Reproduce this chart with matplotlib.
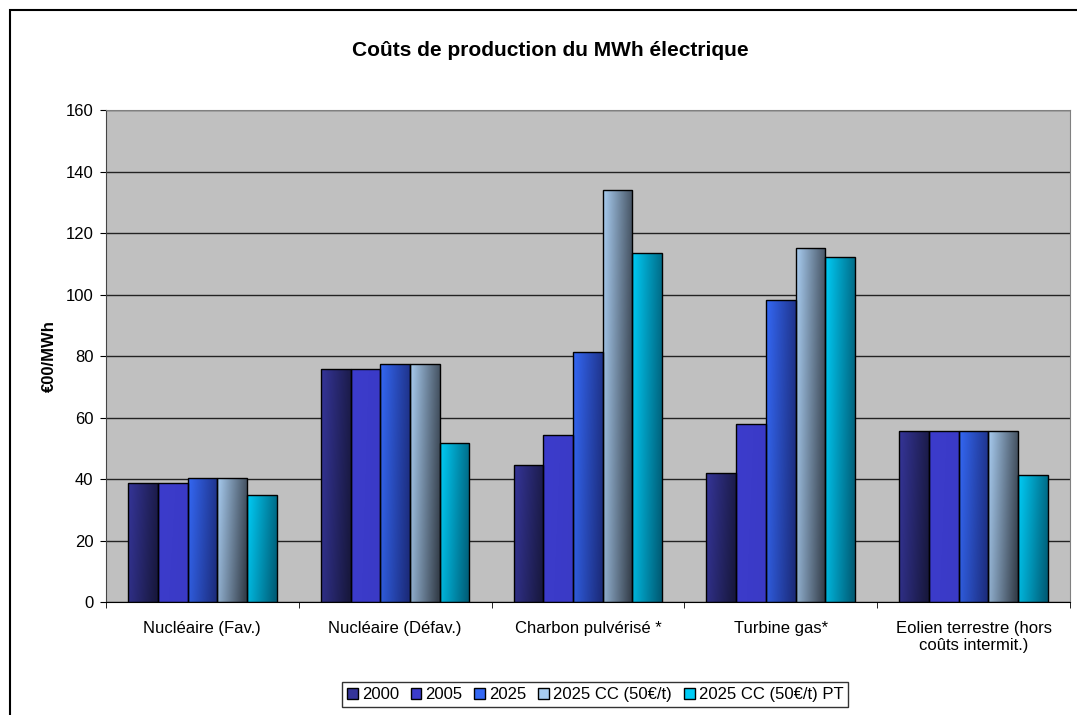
import numpy as np
import matplotlib
matplotlib.use('Agg')
import matplotlib.pyplot as plt
from matplotlib.patches import Patch, Rectangle
from matplotlib.colors import to_rgb

plt.rcParams['font.family'] = ['Liberation Sans', 'DejaVu Sans']

# données
categories = ['Nucléaire (Fav.)', 'Nucléaire (Défav.)', 'Charbon pulvérisé *',
              'Turbine gas*', 'Eolien terrestre (hors\ncoûts intermit.)']
series = ['2000', '2005', '2025', '2025 CC (50€/t)', '2025 CC (50€/t) PT']
v2000 = [38.6, 75.7, 44.6, 42.0, 55.7]
v2005 = [38.6, 75.7, 54.3, 57.8, 55.7]
v2025 = [40.4, 77.4, 81.2, 98.2, 55.7]
v2025cc = [40.4, 77.4, 133.9, 115.1, 55.7]
v2025pt = [34.8, 51.8, 113.5, 112.2, 41.2]
values = [v2000, v2005, v2025, v2025cc, v2025pt]

# couleurs (clair à gauche, foncé à droite)
light = ['#353599', '#3c3ccc', '#3468f4', '#a8ccf0', '#00ccf6']
dark = ['#18183e', '#3a3ac6', '#1c2c7c', '#36404c', '#005e78']

fig = plt.figure(figsize=(10.77, 7.15), dpi=100)
ax = fig.add_axes([0.0984, 0.158, 0.895, 0.688])
ax.set_facecolor('#c0c0c0')

x = np.arange(len(categories))
w = 0.154
n = len(series)

for i in range(n):
    pos = x + (i - (n - 1) / 2) * w
    bars = ax.bar(pos, values[i], w, color='none', edgecolor='black', linewidth=1.0, zorder=3)
    c1 = np.array(to_rgb(light[i]))
    c2 = np.array(to_rgb(dark[i]))
    tx = np.linspace(0, 1, 40)[None, :]
    ty = np.linspace(0, 1, 40)[:, None]  # 0 = haut
    wt = np.clip(0.85 * tx + 0.2 * ty, 0, 1)
    img = c1[None, None, :] * (1 - wt[..., None]) + c2[None, None, :] * wt[..., None]
    for b in bars:
        x0, h = b.get_x(), b.get_height()
        im = ax.imshow(img, extent=[x0, x0 + w, 0, h], aspect='auto',
                       origin='upper', zorder=2, interpolation='bilinear')
        im.set_clip_path(b)

ax.set_xlim(-0.5, len(categories) - 0.5)
ax.set_ylim(0, 160)
ax.set_yticks(np.arange(0, 161, 20))
ax.yaxis.grid(True, color='#222222', linewidth=1.0, zorder=1)
ax.set_axisbelow(True)

ax.set_xticks(x)
ax.set_xticklabels(categories, fontsize=12, linespacing=1.15)
ax.tick_params(axis='x', which='major', length=0, pad=14)
ax.set_xticks(np.arange(-0.5, len(categories), 1), minor=True)
ax.tick_params(axis='x', which='minor', length=4, direction='out', color='black')
ax.tick_params(axis='y', labelsize=12, length=4, direction='out', pad=5)

for s in ['top', 'right']:
    ax.spines[s].set_color('#808080')
ax.spines['left'].set_color('#444444')
ax.spines['bottom'].set_color('black')

ax.set_ylabel('€00/MWh', fontsize=12, fontweight='bold', labelpad=6)

fig.text(0.511, 0.930, 'Coûts de production du MWh électrique', ha='center', va='center',
         fontsize=15, fontweight='bold')

handles = [Patch(facecolor=light[i], edgecolor='black', linewidth=1.0) for i in range(n)]
leg = fig.legend(handles, series, loc='center', bbox_to_anchor=(0.5525, 0.028), ncol=5,
                 fontsize=12, handlelength=0.65, handleheight=0.65, handletextpad=0.25,
                 columnspacing=0.7, frameon=True, fancybox=False, borderpad=0.3)
leg.get_frame().set_edgecolor('black')
leg.get_frame().set_linewidth(1.0)

# cadre du graphique (haut et gauche visibles)
fig.patches.append(Rectangle((0.0093, -0.05), 1.1, 0.986 + 0.05, transform=fig.transFigure,
                             fill=False, edgecolor='black', linewidth=1.5))

fig.savefig('out.png', dpi=100)
